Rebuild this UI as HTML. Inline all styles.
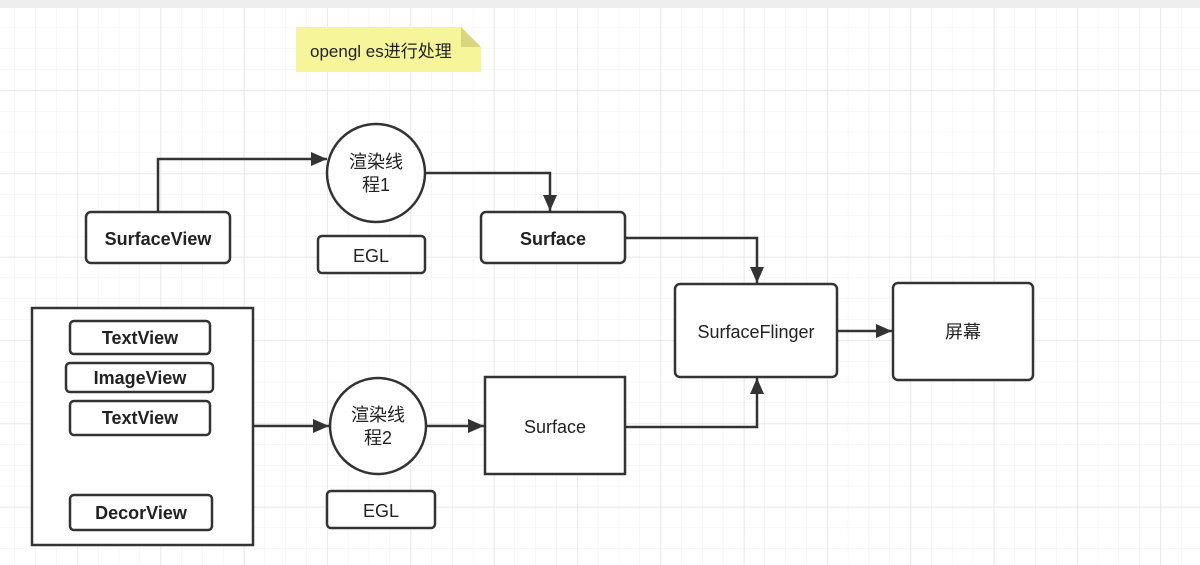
<!DOCTYPE html>
<html><head><meta charset="utf-8"><style>
html,body{margin:0;padding:0;background:#fff;}
svg{display:block;}
text{font-family:"Liberation Sans","Noto Sans CJK SC",sans-serif;fill:#222;}
</style></head><body>
<svg width="1200" height="565" viewBox="0 0 1200 565" xmlns="http://www.w3.org/2000/svg">
<defs>
<pattern id="minor" x="14.6" y="6.8" width="20.83" height="20.83" patternUnits="userSpaceOnUse">
<path d="M0 0 H20.83 M0 0 V20.83" stroke="#efefef" stroke-width="1" fill="none"/>
</pattern>
<pattern id="major" x="-6.2" y="6.8" width="83.33" height="83.33" patternUnits="userSpaceOnUse">
<path d="M0 0 H83.33 M0 0 V83.33" stroke="#e3e3e3" stroke-width="1.5" fill="none"/>
</pattern>
<marker id="ah" markerWidth="16" markerHeight="14" refX="16" refY="7" orient="auto" markerUnits="userSpaceOnUse" viewBox="0 0 16 14">
<path d="M0 0 L16 7 L0 14 Z" fill="#333"/>
</marker>
</defs>
<rect width="1200" height="565" fill="#fff"/>
<rect width="1200" height="565" fill="url(#minor)"/>
<rect width="1200" height="565" fill="url(#major)"/>
<rect width="1200" height="8" fill="#eeeeee"/>

<path d="M296 27 H461 L481 47 V72 H296 Z" fill="#f7f59a"/>
<path d="M461 27 L481 47 H461 Z" fill="#d9d77e"/>
<text x="310" y="57" font-size="17">opengl es进行处理</text>

<g stroke="#333" stroke-width="2.5" fill="none">
<path d="M158 212 V159 H327" marker-end="url(#ah)"/>
<path d="M425 173 H550 V211" marker-end="url(#ah)"/>
<path d="M625 238 H757 V283" marker-end="url(#ah)"/>
<path d="M838 331 H892" marker-end="url(#ah)"/>
<path d="M253 426 H329" marker-end="url(#ah)"/>
<path d="M427 426 H484" marker-end="url(#ah)"/>
<path d="M625 427 H757 V378" marker-end="url(#ah)"/>
</g>

<g stroke="#333" stroke-width="2.5" fill="#fff">
<rect x="86" y="212" width="144" height="51" rx="5"/>
<circle cx="376" cy="173" r="49"/>
<rect x="318" y="236" width="107" height="37" rx="4"/>
<rect x="481" y="212" width="144" height="51" rx="5"/>
<rect x="675" y="284" width="162" height="93" rx="5"/>
<rect x="893" y="283" width="140" height="97" rx="5"/>
<rect x="32" y="308" width="221" height="237"/>
<rect x="70" y="321" width="140" height="33" rx="4"/>
<rect x="66" y="363" width="147" height="29" rx="4"/>
<rect x="70" y="401" width="140" height="34" rx="4"/>
<rect x="70" y="495" width="142" height="35" rx="4"/>
<ellipse cx="378" cy="426" rx="48" ry="48"/>
<rect x="327" y="491" width="108" height="37" rx="4"/>
<rect x="485" y="377" width="140" height="97"/>
</g>

<g font-size="18" text-anchor="middle">
<text x="376" y="168">渲染线</text>
<text x="376" y="191">程1</text>
<text x="371" y="262">EGL</text>
<text x="756" y="338">SurfaceFlinger</text>
<text x="963" y="338">屏幕</text>
<text x="378" y="421">渲染线</text>
<text x="378" y="444">程2</text>
<text x="381" y="517">EGL</text>
<text x="555" y="433">Surface</text>
<text x="158" y="245" font-weight="bold">SurfaceView</text>
<text x="553" y="245" font-weight="bold">Surface</text>
<text x="140" y="344" font-weight="bold">TextView</text>
<text x="140" y="384" font-weight="bold">ImageView</text>
<text x="140" y="424" font-weight="bold">TextView</text>
<text x="141" y="519" font-weight="bold">DecorView</text>
</g>
</svg>
</body></html>
